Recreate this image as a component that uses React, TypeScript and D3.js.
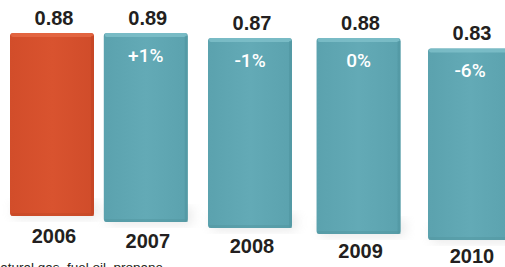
import * as d3 from 'd3';

const years = ['2006', '2007', '2008', '2009', '2010'];
const values = [0.88, 0.89, 0.87, 0.88, 0.83];
const changes = ['', '+1%', '-1%', '0%', '-6%'];
const footnote = 'natural gas, fuel oil, propane';

const W = 505;
const H = 267;
const barW = 84;

export default function App() {
  const idx = years.map((_, i) => i);

  // perspective: bars spread and drop as they go right
  const x = d3.scalePow().exponent(1.078).domain([0, 4]).range([10, 428]);
  const base = d3.scaleLinear().domain([0, 4]).range([216, 240]);
  const tilt = d3.scaleLinear().domain([0, 4]).range([29.5, 36.2]);
  const y = d3.scaleLinear().domain([0.8, 0.9]).range([17.5, 0]);
  // year labels sit under the bars, flattened a bit so the last one fits
  const yearY = d3.scaleLinear().domain([0, 4]).range([243, 263]);

  const font = 'Liberation Sans, Arial, Helvetica, sans-serif';

  return (
    <svg
      width={W}
      height={H}
      style={{ position: 'absolute', left: 0, top: 0, background: '#fff' }}
      fontFamily={font}
    >
      <defs>
        <linearGradient id="gOrange" x1="0" x2="1" y1="0" y2="0">
          <stop offset="0" stopColor="#d24d2a" />
          <stop offset="0.5" stopColor="#d9532f" />
          <stop offset="1" stopColor="#d04c2a" />
        </linearGradient>
        <linearGradient id="gTeal" x1="0" x2="1" y1="0" y2="0">
          <stop offset="0" stopColor="#5ba2ae" />
          <stop offset="0.5" stopColor="#63aab6" />
          <stop offset="1" stopColor="#5ba2ae" />
        </linearGradient>
        <filter id="blur" x="-20%" y="-20%" width="140%" height="140%">
          <feGaussianBlur stdDeviation="6" />
        </filter>
      </defs>

      {idx.map(i => {
        const left = x(i);
        const top = tilt(i) + y(values[i]);
        const bottom = base(i);
        const first = i === 0;
        const fill = first ? 'url(#gOrange)' : 'url(#gTeal)';
        const topC = first ? '#e66a46' : '#80c1cb';
        const sideC = first ? '#bf4422' : '#4f939f';
        const botC = first ? '#c24725' : '#52969f';
        return (
          <g key={years[i]}>
            <rect x={left + 4} y={bottom - 14} width={barW} height={16} fill="#c4c4c4" opacity={0.4} filter="url(#blur)" />
            <rect x={left} y={top} width={barW} height={bottom - top} rx={3} fill={fill} />
            <rect x={left + 1} y={top} width={barW - 2} height={4} rx={2} fill={topC} opacity={0.8} />
            <rect x={left + barW - 3} y={top + 3} width={3} height={bottom - top - 3} fill={sideC} opacity={0.55} />
            <rect x={left + 1} y={bottom - 3} width={barW - 2} height={3} fill={botC} opacity={0.5} />
          </g>
        );
      })}

      {idx.map(i => {
        const cx = x(i) + barW / 2;
        const top = tilt(i) + y(values[i]);
        return (
          <g key={'l' + years[i]}>
            <text x={cx + 2} y={top - 8} textAnchor="middle" fontSize={20} fontWeight="bold" fill="#231f20">
              {values[i].toFixed(2)}
            </text>
            {changes[i] && (
              <text x={cx} y={top + 29} textAnchor="middle" fontSize={19} fontWeight={500} fontFamily="Roboto, Liberation Sans, sans-serif" fill="#ffffff">
                {changes[i]}
              </text>
            )}
            <text x={cx + 2} y={yearY(i)} textAnchor="middle" fontSize={20} fontWeight="bold" fill="#231f20">
              {years[i]}
            </text>
          </g>
        );
      })}

      <text x={163} y={272} textAnchor="end" fontSize={13.5} fill="#231f20">
        {footnote}
      </text>
    </svg>
  );
}
